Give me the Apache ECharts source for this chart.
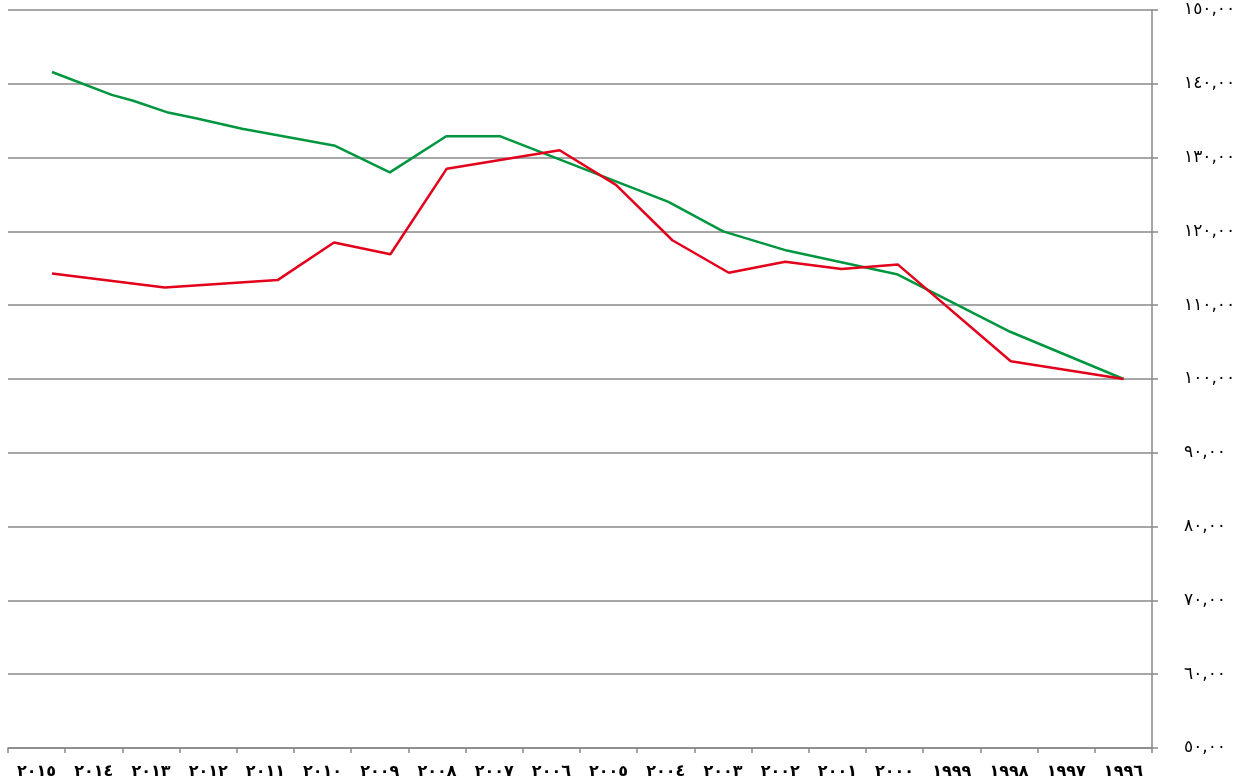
<!DOCTYPE html>
<html>
<head>
<meta charset="utf-8">
<script src="https://cdn.jsdelivr.net/npm/echarts@6/dist/echarts.min.js"></script>
<style>
html,body{margin:0;padding:0;background:#fff;}
#chart{width:1249px;height:782px;}
</style>
</head>
<body>
<div id="chart"></div>
<script>
// Categories (years; 2015 on the left)
const categories = ['2015','2014','2013','2012','2011','2010','2009','2008','2007','2006','2005','2004','2003','2002','2001','2000','1999','1998','1997','1996'];
// Y tick values
const yTicks = [50, 60, 70, 80, 90, 100, 110, 120, 130, 140, 150];
// Green series: vertices (year position, value)
const greenYears  = [2015, 2013.94, 2013.56, 2012.94, 2012.43, 2011.63, 2009.98, 2009.01, 2008.01, 2007.06, 2004.07, 2003.10, 2001.97, 2000.02, 1998.01, 1996];
const greenValues = [141.6, 138.5, 137.7, 136.1, 135.3, 133.9, 131.6, 128.0, 132.9, 132.9, 124.0, 120.0, 117.4, 114.2, 106.4, 100.0];
// Red series: vertices
const redYears  = [2015, 2013, 2011, 2010, 2009, 2008, 2006, 2005, 2004, 2003, 2002, 2001, 2000, 1998, 1996];
const redValues = [114.3, 112.4, 113.4, 118.5, 116.9, 128.5, 131.0, 126.3, 118.8, 114.4, 115.9, 114.9, 115.5, 102.4, 100.0];

const arDigits = ['٠','١','٢','٣','٤','٥','٦','٧','٨','٩'];
function toArabic(s){ return String(s).replace(/[0-9]/g, d => arDigits[+d]); }
function yLabel(v){ return toArabic(String(Math.round(v))) + ',' + toArabic('00'); }

const chart = echarts.init(document.getElementById('chart'), null, {renderer:'canvas'});
const axisGrey = '#888888';
chart.setOption({
  animation: false,
  backgroundColor: '#ffffff',
  grid: {left: 8, right: 97, top: 10, bottom: 34, containLabel: false},
  xAxis: [
    {
      type: 'category',
      data: categories,
      boundaryGap: true,
      position: 'bottom',
      axisLine: {show: true, lineStyle: {color: axisGrey, width: 1.5}},
      axisTick: {show: true, interval: 0, length: 5, lineStyle: {color: axisGrey, width: 1.5}},
      axisLabel: {
        interval: 0, margin: 16, color: '#000',
        fontFamily: 'DejaVu Sans', fontWeight: 'bold', fontSize: 16,
        formatter: v => toArabic(v)
      },
      splitLine: {show: false}
    },
    {
      type: 'value',
      show: false,
      inverse: true,
      min: 1995.496,
      max: 2015.78,
      splitLine: {show: false}
    }
  ],
  yAxis: {
    type: 'value',
    position: 'right',
    min: yTicks[0],
    max: yTicks[yTicks.length-1],
    interval: 10,
    axisLine: {show: true, lineStyle: {color: axisGrey, width: 1.5}},
    axisTick: {show: true, length: 6, lineStyle: {color: axisGrey, width: 1.5}},
    axisLabel: {
      margin: 32, color: '#000', fontFamily: 'DejaVu Sans', fontSize: 17,
      formatter: v => yLabel(v)
    },
    splitLine: {show: true, lineStyle: {color: axisGrey, width: 1.5}}
  },
  series: [
    {
      type: 'line',
      xAxisIndex: 1,
      data: greenYears.map((y, i) => [y, greenValues[i]]),
      symbol: 'none',
      lineStyle: {color: '#009640', width: 2.5},
      itemStyle: {color: '#009640'},
      z: 3
    },
    {
      type: 'line',
      xAxisIndex: 1,
      data: redYears.map((y, i) => [y, redValues[i]]),
      symbol: 'none',
      lineStyle: {color: '#e3001b', width: 2.5},
      itemStyle: {color: '#e3001b'},
      z: 4
    }
  ]
});
</script>
</body>
</html>
